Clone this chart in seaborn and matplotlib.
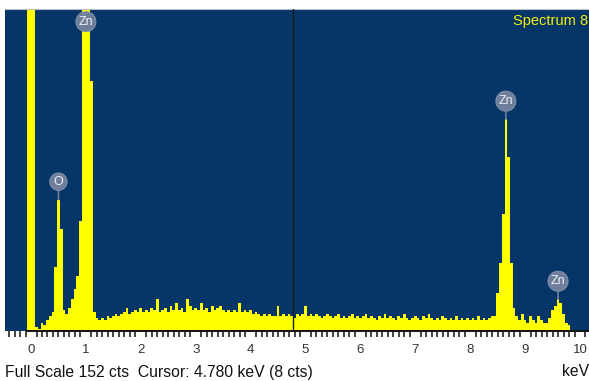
import numpy as np
import pandas as pd
import matplotlib
matplotlib.use('Agg')
import matplotlib.pyplot as plt
from matplotlib.ticker import MultipleLocator
import seaborn as sns

# EDS spectrum, counts per 0.05 keV channel, first channel centred at -0.05 keV
energy_start = -0.05
channel_kev = 0.05
counts = [175,
          175, 175, 2, 1, 4, 3, 5, 7, 9, 30, 62, 48, 10, 8, 11, 15, 20, 26, 52, 158,      # 0.00 - 0.95
          175, 165, 118, 9, 6, 5, 6, 5, 7, 6, 7, 8, 7, 8, 9, 11, 8, 9, 10, 9,            # 1.00 - 1.95
          11, 9, 10, 9, 11, 10, 15, 9, 10, 11, 9, 12, 10, 13, 10, 11, 9, 15, 12, 10,     # 2.00 - 2.95
          11, 10, 13, 10, 11, 9, 12, 10, 11, 12, 10, 9, 10, 9, 10, 9, 13, 9, 10, 9,      # 3.00 - 3.95
          10, 8, 9, 8, 7, 8, 7, 8, 7, 7, 12, 7, 8, 7, 8, 7, 6, 8, 7, 8,                  # 4.00 - 4.95
          12, 7, 8, 7, 8, 7, 6, 7, 8, 7, 6, 7, 8, 6, 7, 6, 7, 8, 6, 7,                   # 5.00 - 5.95
          6, 7, 8, 6, 7, 6, 5, 7, 6, 8, 6, 7, 6, 5, 7, 6, 8, 6, 5, 6,                    # 6.00 - 6.95
          7, 6, 5, 7, 6, 8, 6, 5, 6, 5, 7, 6, 5, 6, 5, 7, 5, 6, 5, 6,                    # 7.00 - 7.95
          5, 6, 5, 7, 5, 6, 5, 6, 7, 7, 18, 32, 55, 100, 82, 32, 11, 7, 5, 8,            # 8.00 - 8.95
          5, 4, 7, 5, 4, 7, 5, 4, 4, 6, 10, 12, 15, 13, 8, 4, 3]                         # 9.00 - 9.80

# peak labels
peak_names = ['O', 'Zn', 'Zn', 'Zn']
peak_kev = [0.50, 1.00, 8.65, 9.60]

full_scale = 152
cursor_kev = 4.780
cursor_cts = 8
spectrum_name = 'Spectrum 8'

energies = energy_start + channel_kev * np.arange(len(counts))
df = pd.DataFrame({'energy': energies, 'counts': counts})

sns.set_style('white')
plt.rcParams['font.family'] = ['Liberation Sans', 'DejaVu Sans']

fig = plt.figure(figsize=(5.89, 3.81), dpi=100)
ax = fig.add_axes([5 / 589, 50 / 381, 584 / 589, 322 / 381])
ax.set_facecolor('#053667')

sns.histplot(data=df, x='energy', weights='counts', binwidth=channel_kev,
             binrange=(energies[0] - channel_kev / 2, energies[-1] + channel_kev / 2),
             element='step', fill=True, color='#ffff00', alpha=1, linewidth=0, ax=ax)

ax.set_xlim(-0.474, 10.164)
ax.set_ylim(0, full_scale)
ax.set_xlabel('')
ax.set_ylabel('')
ax.set_yticks([])

# cursor
ax.axvline(cursor_kev, color='#1a1a1a', lw=1, zorder=3)

# element labels
for name, e in zip(peak_names, peak_kev):
    peak = counts[int(round((e - energy_start) / channel_kev))]
    label_y = min(peak + 8.5, full_scale - 6)
    arrow = dict(arrowstyle='-', color='#6e7e9b', lw=1.2, shrinkA=0, shrinkB=0) if peak < full_scale else None
    ax.annotate(name, xy=(e, min(peak, full_scale)), xytext=(e, label_y),
                ha='center', va='center', fontsize=9, color='#eef1f6', zorder=5,
                bbox=dict(boxstyle='circle,pad=0.22', fc='#6e7e9b', ec='#8a98b0', lw=0.6),
                arrowprops=arrow)

ax.text(0.999, 0.985, spectrum_name, transform=ax.transAxes, ha='right', va='top',
        fontsize=10.5, color='#f2f20a')

# axis styling
for s in ['left', 'right']:
    ax.spines[s].set_visible(False)
ax.spines['top'].set_color('#b8c0c8')
ax.spines['top'].set_linewidth(0.8)
ax.spines['bottom'].set_color('#111111')
ax.spines['bottom'].set_linewidth(1.4)
ax.spines['bottom'].set_bounds(-0.07, 10.164)

ax.set_xticks(range(0, 11))
ax.xaxis.set_minor_locator(MultipleLocator(0.1))
ax.tick_params(axis='x', which='major', direction='out', length=7.5, width=1.1,
               color='#111111', labelsize=9.5, labelcolor='#333333', pad=2)
ax.tick_params(axis='x', which='minor', direction='out', length=4.5, width=1.1,
               color='#111111', bottom=True)

fig.text(5 / 589, 9 / 381, f'Full Scale {full_scale} cts  Cursor: {cursor_kev:.3f} keV ({cursor_cts} cts)',
         ha='left', va='center', fontsize=11.3, color='#111111')
fig.text(1.0, 9 / 381, 'keV', ha='right', va='center', fontsize=11.3, color='#111111')

fig.savefig('out.png', dpi=100)
